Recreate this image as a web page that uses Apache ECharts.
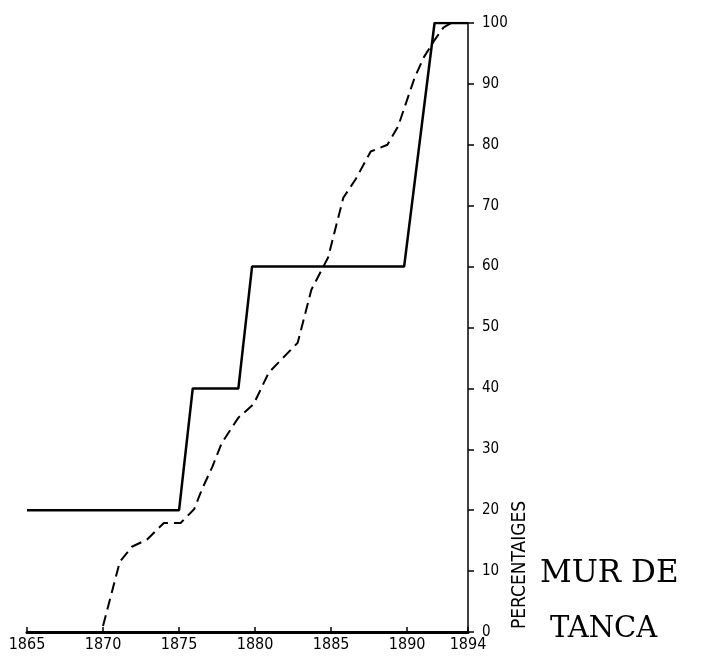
<!DOCTYPE html>
<html>
<head>
<meta charset="utf-8">
<script src="https://cdn.jsdelivr.net/npm/echarts@6/dist/echarts.min.js"></script>
<style>
  html, body { margin: 0; padding: 0; background: #fff; }
  #chart { width: 702px; height: 658px; }
</style>
</head>
<body>
<div id="chart"></div>
<script>
// stepped line (solid)
var solidYears = [1865, 1875, 1875.9, 1878.9, 1879.8, 1889.8, 1891.8, 1894];
var solidPct   = [20,   20,   40,     40,     60,     60,     100,    100];

// dashed curve
var dashYears = [1870, 1871.1, 1871.9, 1872.9, 1874.0, 1875.1, 1876.0, 1876.5, 1877.2, 1877.8,
                 1878.9, 1879.9, 1880.9, 1882.8, 1883.7, 1884.8, 1885.8, 1886.6, 1887.6, 1888.7,
                 1889.4, 1890.5, 1891.1, 1891.8, 1892.4, 1892.9];
var dashPct   = [1,    11.5,   14,     15.2,   17.9,   17.9,   20.2,   23.4,   27.2,   31,
                 35.2,   37.4,   42.6,   47.5,   56.2,   61.5,   71.3,   74.3,   78.9,   80,
                 83,     91.1,   94.4,   97.2,   99.3,   100];

var yearTicks = [1865, 1870, 1875, 1880, 1885, 1890, 1894];

var labelFont = '"DejaVu Sans Condensed", "Liberation Sans", sans-serif';

function pairs(xs, ys) {
	var list = [];
	for (var i = 0; i < xs.length; i++) {
		list.push([xs[i], ys[i]]);
	}
	return list;
}

var myChart = echarts.init(document.getElementById('chart'));

var option = {
	animation: false,
	backgroundColor: '#fff',
	grid: {
		left: 27,
		right: 234,
		top: 23,
		bottom: 26
	},
	xAxis: {
		type: 'value',
		min: 1865,
		max: 1894,
		interval: 5,
		axisLine: { lineStyle: { color: '#000', width: 3 } },
		axisTick: { inside: true, length: 5, lineStyle: { color: '#000', width: 1.5 } },
		splitLine: { show: false },
		axisLabel: {
			color: '#000',
			fontFamily: labelFont,
			fontSize: 16,
			margin: 5,
			showMinLabel: true,
			showMaxLabel: true,
			formatter: function (v) {
				return yearTicks.indexOf(v) >= 0 ? String(v) : '';
			}
		}
	},
	yAxis: {
		type: 'value',
		position: 'right',
		min: 0,
		max: 100,
		interval: 10,
		axisLine: { show: true, lineStyle: { color: '#000', width: 1.5 } },
		axisTick: { show: true, inside: false, length: 6, lineStyle: { color: '#000', width: 1.5 } },
		splitLine: { show: false },
		axisLabel: {
			color: '#000',
			fontFamily: labelFont,
			fontSize: 15,
			margin: 14
		}
	},
	series: [{
		name: 'solid',
		type: 'line',
		data: pairs(solidYears, solidPct),
		symbol: 'none',
		lineStyle: { color: '#000', width: 2.5 }
	}, {
		name: 'dashed',
		type: 'line',
		data: pairs(dashYears, dashPct),
		symbol: 'none',
		lineStyle: { color: '#000', width: 2, type: [11, 6] }
	}],
	graphic: [{
		type: 'text',
		x: 520,
		y: 629,
		rotation: Math.PI / 2,
		style: {
			text: 'PERCENTAIGES',
			fill: '#000',
			font: '19px "DejaVu Sans Condensed", "Liberation Sans", sans-serif',
			textAlign: 'left',
			textVerticalAlign: 'middle'
		}
	}, {
		type: 'text',
		x: 540,
		y: 574,
		style: {
			text: 'MUR DE',
			fill: '#000',
			font: '31px "DejaVu Serif"',
			textAlign: 'left',
			textVerticalAlign: 'middle'
		}
	}, {
		type: 'text',
		x: 550,
		y: 629,
		style: {
			text: 'TANCA',
			fill: '#000',
			font: '29px "DejaVu Serif"',
			textAlign: 'left',
			textVerticalAlign: 'middle'
		}
	}]
};

myChart.setOption(option);
</script>
</body>
</html>
